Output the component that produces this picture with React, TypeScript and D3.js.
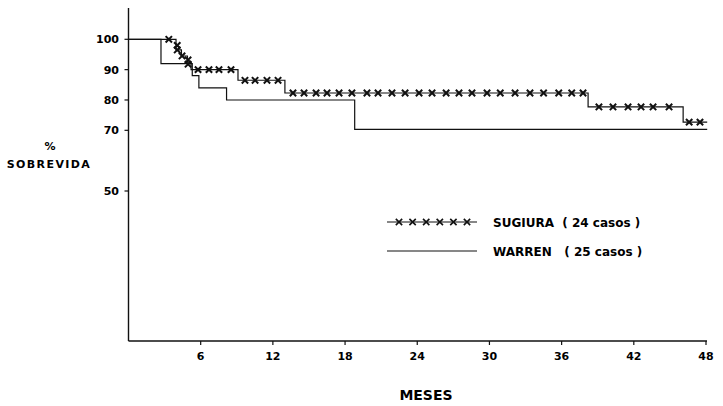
import React, { useEffect, useRef } from 'react';
import * as d3 from 'd3';

// meses (x) and % sobrevida (y)
const monthTicks = [6, 12, 18, 24, 30, 36, 42, 48];
const survivalTicks = [100, 90, 80, 70, 50];

// Warren: step curve (time of each step, level after it)
const warrenMonths = [0, 2.7, 5.3, 5.85, 8.15, 18.8, 48.1];
const warrenSurvival = [100, 92, 88, 84, 80, 70.3, 70.3];

// Sugiura: step curve
const sugiuraMonths = [0, 3.95, 4.4, 4.9, 5.2, 9.1, 13.0, 38.2, 46.1, 48.1];
const sugiuraSurvival = [100, 96.5, 94.5, 92.5, 90, 86.5, 82.3, 77.7, 72.7, 72.7];

// Sugiura censored cases (x marks)
const sugiuraMarkMonths = [
  3.35, 4.05, 4.05, 4.45, 4.95, 4.95,
  5.78, 6.69, 7.52, 8.52,
  9.68, 10.52, 11.51, 12.43,
  13.67, 14.59, 15.59, 16.5, 17.5, 18.57, 19.82, 20.74, 21.9, 22.99, 24.15, 25.23,
  26.4, 27.47, 28.55, 29.8, 30.9, 32.13, 33.37, 34.5, 35.76, 36.84, 37.78,
  39.1, 40.27, 41.52, 42.6, 43.6, 44.93,
  46.6, 47.5,
];
const sugiuraMarkSurvival = [
  100, 98, 96.5, 94.5, 93.2, 91.8,
  90, 90, 90, 90,
  86.5, 86.5, 86.5, 86.5,
  82.3, 82.3, 82.3, 82.3, 82.3, 82.3, 82.3, 82.3, 82.3, 82.3, 82.3, 82.3,
  82.3, 82.3, 82.3, 82.3, 82.3, 82.3, 82.3, 82.3, 82.3, 82.3, 82.3,
  77.7, 77.7, 77.7, 77.7, 77.7, 77.7,
  72.7, 72.7,
];

const legendItems = ['SUGIURA  ( 24 casos )', 'WARREN   ( 25 casos )'];

function SurvivalChart() {
  const svgRef = useRef(null);

  useEffect(() => {
    const width = 723;
    const height = 406;
    const font = '"DejaVu Sans", sans-serif';

    const svg = d3.select(svgRef.current);
    svg.selectAll('*').remove();
    svg.attr('width', width).attr('height', height);

    const x = d3.scaleLinear().domain([0, 48]).range([128.5, 706]);
    const y = d3.scaleLinear().domain([50, 100]).range([191, 39.3]);
    const axisBottom = 341;
    const axisTop = 8;

    // axes
    svg.append('line')
      .attr('x1', x(0)).attr('x2', x(0))
      .attr('y1', axisTop).attr('y2', axisBottom)
      .attr('stroke', '#111').attr('stroke-width', 1.4);
    svg.append('line')
      .attr('x1', x(0)).attr('x2', x(48) + 1)
      .attr('y1', axisBottom).attr('y2', axisBottom)
      .attr('stroke', '#111').attr('stroke-width', 1.4);

    survivalTicks.forEach(t => {
      svg.append('line')
        .attr('x1', x(0) - 4).attr('x2', x(0))
        .attr('y1', y(t)).attr('y2', y(t))
        .attr('stroke', '#111').attr('stroke-width', 1.2);
      svg.append('text')
        .attr('x', 119).attr('y', y(t) + 4)
        .attr('text-anchor', 'end')
        .style('font-family', font).style('font-weight', 'bold').style('font-size', '11px')
        .text(t);
    });

    monthTicks.forEach(t => {
      svg.append('line')
        .attr('x1', x(t)).attr('x2', x(t))
        .attr('y1', axisBottom).attr('y2', axisBottom + 4)
        .attr('stroke', '#111').attr('stroke-width', 1.2);
      svg.append('text')
        .attr('x', x(t)).attr('y', 359.5)
        .attr('text-anchor', 'middle')
        .style('font-family', font).style('font-weight', 'bold').style('font-size', '11px')
        .text(t);
    });

    // axis titles
    svg.append('text')
      .attr('x', 50).attr('y', 150)
      .attr('text-anchor', 'middle')
      .style('font-family', font).style('font-weight', 'bold').style('font-size', '11px')
      .text('%');
    svg.append('text')
      .attr('x', 49).attr('y', 168)
      .attr('text-anchor', 'middle')
      .style('font-family', font).style('font-weight', 'bold').style('font-size', '11px')
      .style('letter-spacing', '1.4px')
      .text('SOBREVIDA');
    svg.append('text')
      .attr('x', 426).attr('y', 400)
      .attr('text-anchor', 'middle')
      .style('font-family', font).style('font-weight', 'bold').style('font-size', '14px')
      .text('MESES');

    // curves
    const line = d3.line().curve(d3.curveStepAfter).x(d => x(d[0])).y(d => y(d[1]));
    const warren = warrenMonths.map((m, i) => [m, warrenSurvival[i]]);
    const sugiura = sugiuraMonths.map((m, i) => [m, sugiuraSurvival[i]]);

    svg.append('path')
      .datum(warren)
      .attr('fill', 'none').attr('stroke', '#111').attr('stroke-width', 1.2)
      .attr('d', line);
    svg.append('path')
      .datum(sugiura)
      .attr('fill', 'none').attr('stroke', '#111').attr('stroke-width', 1.2)
      .attr('d', line);

    const mark = d3.symbol(d3.symbolX, 28);
    sugiuraMarkMonths.forEach((m, i) => {
      svg.append('path')
        .attr('d', mark())
        .attr('transform', `translate(${x(m)},${y(sugiuraMarkSurvival[i])})`)
        .attr('fill', 'none').attr('stroke', '#111').attr('stroke-width', 2);
    });

    // legend
    const lx0 = 387;
    const lx1 = 477;
    const ly = [222, 251];
    legendItems.forEach((label, i) => {
      svg.append('line')
        .attr('x1', lx0).attr('x2', lx1)
        .attr('y1', ly[i]).attr('y2', ly[i])
        .attr('stroke', '#111').attr('stroke-width', 1.1);
      svg.append('text')
        .attr('x', 493).attr('y', ly[i] + 4.5)
        .attr('xml:space', 'preserve')
        .style('white-space', 'pre')
        .style('font-family', font).style('font-weight', 'bold').style('font-size', '12px')
        .text(label);
    });
    d3.range(6).forEach(k => {
      svg.append('path')
        .attr('d', mark())
        .attr('transform', `translate(${399 + k * 13.6},${ly[0]})`)
        .attr('fill', 'none').attr('stroke', '#111').attr('stroke-width', 1.6);
    });
  }, []);

  return (
    <svg
      ref={svgRef}
      style={{ position: 'absolute', left: 0, top: 0, display: 'block', background: '#fff' }}
    ></svg>
  );
}

export default function App() {
  return <SurvivalChart />;
}
